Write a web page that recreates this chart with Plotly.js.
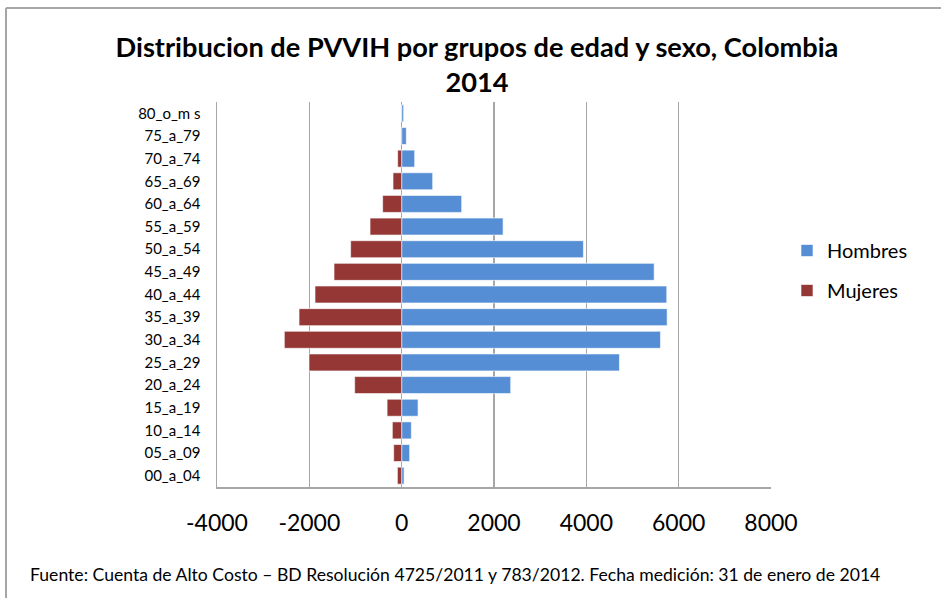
<!DOCTYPE html>
<html>
<head>
<meta charset="utf-8">
<script src="https://cdn.plot.ly/plotly-3.0.1.min.js"></script>
<style>html,body{margin:0;padding:0;background:#fff;}#chart{width:941px;height:598px;}</style>
</head>
<body>
<div id="chart"></div>
<script>
const categories = ["00_a_04","05_a_09","10_a_14","15_a_19","20_a_24","25_a_29","30_a_34","35_a_39","40_a_44","45_a_49","50_a_54","55_a_59","60_a_64","65_a_69","70_a_74","75_a_79","80_o_m s"];
const hombres = [52,173,210,355,2362,4717,5606,5750,5742,5469,3937,2197,1300,672,282,100,43];
const mujeres = [93,173,202,316,1018,2007,2542,2223,1877,1465,1105,685,412,187,87,15,8];
const tickVals = [-4000,-2000,0,2000,4000,6000,8000];
const tickText = ["-4000","-2000","0","2000","4000","6000","8000"];
const titleText = "Distribucion de PVVIH por grupos de edad y sexo, Colombia<br>2014";
const sourceText = "Fuente: Cuenta de Alto Costo – BD Resolución 4725/2011 y 783/2012. Fecha medición: 31 de enero de 2014";

const FONT = "Lato, 'Open Sans', sans-serif";
const grid = "#A6A6A6";

const traces = [
  {type:"bar", orientation:"h", name:"Hombres", y:categories, x:hombres,
   marker:{color:"#558ED5", line:{color:"rgba(255,255,255,0.6)", width:1}}, legendgroup:"h"},
  {type:"bar", orientation:"h", name:"Mujeres", y:categories, x:mujeres.map(v => -v),
   marker:{color:"#953735", line:{color:"rgba(255,255,255,0.6)", width:1}}, legendgroup:"m"}
];

// plot area pixels: x 217..771, y 102..487
const L=217, R=771, T=102, B=487, W=941, H=598;
const px = X => (X-L)/(R-L);
const py = Y => (B-Y)/(B-T);

const layout = {
  width:W, height:H,
  margin:{l:L, r:W-R, t:T, b:H-B, pad:0},
  paper_bgcolor:"#fff", plot_bgcolor:"#fff",
  font:{family:FONT, color:"#000"},
  barmode:"overlay", bargap:0.25,
  showlegend:true,
  title:{text:titleText, font:{family:FONT, size:27.2, weight:"bold", color:"#000"},
         xref:"container", x:477/W, xanchor:"center", yref:"container", y:1-57/H, yanchor:"top"},
  xaxis:{range:[-4000,8000], tickvals:tickVals, ticktext:tickText, showgrid:true, gridcolor:grid, gridwidth:1.5,
         zeroline:true, zerolinecolor:grid, zerolinewidth:1.5, showline:true, linecolor:grid, linewidth:1.5,
         ticks:"", tickfont:{family:FONT, size:23, color:"#000"}, ticklabelstandoff:15, fixedrange:true},
  yaxis:{type:"category", categoryorder:"array", categoryarray:categories, showgrid:false, zeroline:false,
         showline:true, linecolor:grid, linewidth:1.5, ticks:"", tickfont:{family:FONT, size:15, color:"#000"},
         ticklabelstandoff:12, fixedrange:true},
  legend:{x:px(787), xanchor:"left", y:py(231), yanchor:"top", traceorder:"grouped", tracegroupgap:11,
          font:{family:FONT, size:20, color:"#000"}, bgcolor:"rgba(0,0,0,0)"},
  shapes:[
    {type:"line", xref:"paper", yref:"paper", x0:px(6), x1:px(941), y0:py(8), y1:py(8), line:{color:grid, width:2}},
    {type:"line", xref:"paper", yref:"paper", x0:px(6), x1:px(6), y0:py(8), y1:py(598), line:{color:grid, width:2}}
  ],
  annotations:[
    {text:sourceText, xref:"paper", yref:"paper", x:px(28), y:py(574), xanchor:"left", yanchor:"middle",
     showarrow:false, font:{family:FONT, size:17.6, color:"#000"}}
  ]
};

Plotly.newPlot("chart", traces, layout, {displayModeBar:false, staticPlot:true});
</script>
</body>
</html>
